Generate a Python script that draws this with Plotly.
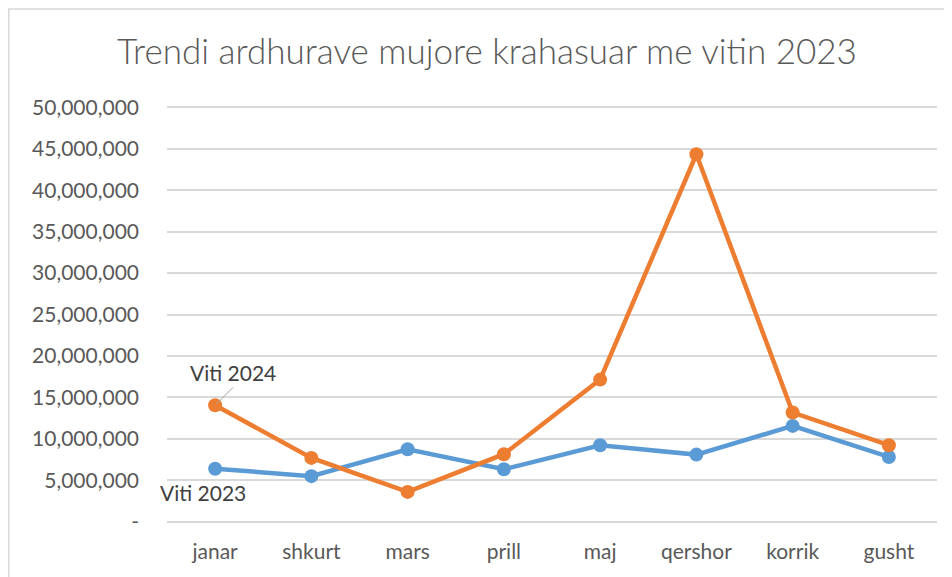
import plotly.graph_objects as go

months = ["janar", "shkurt", "mars", "prill", "maj", "qershor", "korrik", "gusht"]
viti_2023 = [6400000, 5500000, 8750000, 6330000, 9230000, 8100000, 11560000, 7820000]
viti_2024 = [14050000, 7700000, 3600000, 8150000, 17150000, 44330000, 13170000, 9230000]
tick_vals = [0, 5000000, 10000000, 15000000, 20000000, 25000000, 30000000, 35000000, 40000000, 45000000, 50000000]
tick_text = ["-", "5,000,000", "10,000,000", "15,000,000", "20,000,000", "25,000,000",
             "30,000,000", "35,000,000", "40,000,000", "45,000,000", "50,000,000"]

BLUE = "#5B9BD5"
ORANGE = "#ED7D31"
TXT = "#595959"
FONT = "Lato"

fig = go.Figure()
fig.add_trace(go.Scatter(x=months, y=viti_2023, name="Viti 2023", mode="lines+markers",
                         line=dict(color=BLUE, width=4.5), marker=dict(size=14, color=BLUE)))
fig.add_trace(go.Scatter(x=months, y=viti_2024, name="Viti 2024", mode="lines+markers",
                         line=dict(color=ORANGE, width=4.5), marker=dict(size=14, color=ORANGE)))

fig.add_annotation(x=months[0], y=viti_2024[0], text="Viti 2024", showarrow=True,
                   arrowhead=0, arrowwidth=1, arrowcolor="#A6A6A6", ax=18, ay=-18,
                   xanchor="center", yanchor="bottom",
                   font=dict(family=FONT, size=21, color="#404040"), standoff=2)
fig.add_annotation(x=months[0], y=viti_2023[0], text="Viti 2023", showarrow=False,
                   xshift=-12, yshift=-24, font=dict(family=FONT, size=21, color="#404040"))

# page has an 8px body margin; figure coords = page coords - 8
W, H = 952, 577
L, R, T, B = 159, 23, 97.76, 62.26
pw, ph = W - L - R, H - T - B
fig.add_shape(type="rect", xref="paper", yref="paper",
              x0=(0.75 - L) / pw, x1=(W + 20 - L) / pw,
              y0=-(H + 20 - T - ph) / ph, y1=(H - B - 0.75) / ph,
              line=dict(color="#D9D9D9", width=1.5), layer="below")

fig.update_layout(
    width=W, height=H,
    margin=dict(l=L, r=R, t=T, b=B),
    paper_bgcolor="white", plot_bgcolor="white",
    showlegend=False,
    title=dict(text="Trendi ardhurave mujore krahasuar me vitin 2023",
               x=(487 - 8) / W, xanchor="center", y=1 - (52 - 8) / H, yanchor="middle",
               font=dict(family=FONT, size=35, color=TXT, weight=300)),
    xaxis=dict(type="category", range=[-0.5, 7.5], showgrid=False, zeroline=False,
               showline=False, ticks="", tickfont=dict(family=FONT, size=21, color=TXT),
               ticklabelstandoff=14),
    yaxis=dict(range=[-150000, 50150000], tickvals=tick_vals, ticktext=tick_text,
               showgrid=True, gridcolor="#D9D9D9", gridwidth=1.5, zeroline=False,
               showline=False, ticks="", tickfont=dict(family=FONT, size=21, color=TXT),
               ticklabelstandoff=27),
)

fig.write_html("out.html")
